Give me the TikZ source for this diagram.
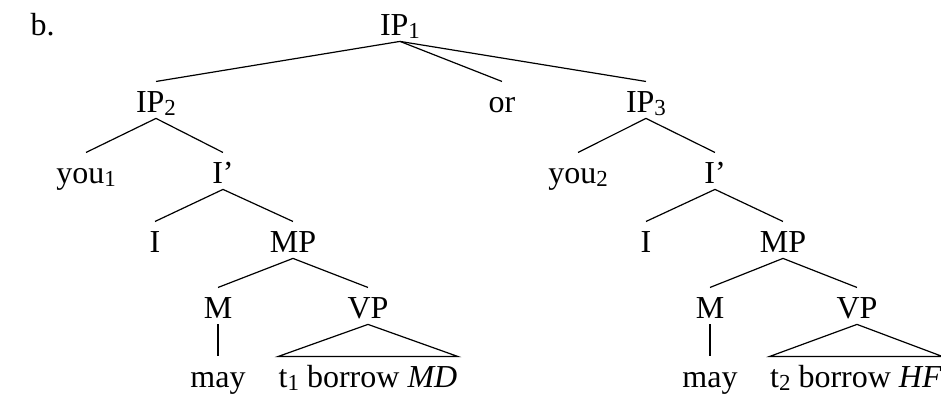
\documentclass[tikz,border=0pt]{standalone}
\usepackage{fontspec}
\setmainfont{Liberation Serif}
\usepackage{tikz}
\usetikzlibrary{positioning}
\newcommand{\idx}[1]{\raisebox{-1.3pt}{\fontsize{8.6}{10}\selectfont #1}}

\begin{document}
\begin{tikzpicture}[x=0.375pt,y=-0.375pt,
    cat/.style={inner sep=0pt,anchor=base,text height=11.25pt,text depth=2.2pt,font=\fontsize{12}{14}\selectfont},
    branch/.style={black,line width=0.45pt}]
      \useasboundingbox (0,0) rectangle (941,394);
      \node[cat,anchor=base west] (tag) at (30,35) {b.};
      % top level
      \node[cat] (ipa) at (400,35) {IP\idx{1}};
      \node[cat] (ipb) at (156,112) {IP\idx{2}};
      \node[cat] (conj) at (502,112) {or};
      \node[cat] (ipc) at (646,112) {IP\idx{3}};
      % left conjunct
      \node[cat] (youa) at (86,183) {you\idx{1}};
      \node[cat] (ibara) at (223,183) {I’};
      \node[cat] (ia) at (155,252) {I};
      \node[cat] (mpa) at (293,252) {MP};
      \node[cat] (ma) at (218,318) {M};
      \node[cat] (vpa) at (368,318) {VP};
      \node[cat] (maya) at (218,387) {may};
      \node[cat] (leafa) at (368,387) {t\idx{1} borrow \textit{MD}};
      % right conjunct
      \node[cat] (youb) at (578,183) {you\idx{2}};
      \node[cat] (ibarb) at (715,183) {I’};
      \node[cat] (ib) at (646,252) {I};
      \node[cat] (mpb) at (783,252) {MP};
      \node[cat] (mb) at (710,318) {M};
      \node[cat] (vpb) at (857,318) {VP};
      \node[cat] (mayb) at (710,387) {may};
      \node[cat] (leafb) at (856,387) {t\idx{2} borrow \textit{HF}};
      \foreach \p/\c in {ipa/ipb,ipa/conj,ipa/ipc,
          ipb/youa,ipb/ibara,ibara/ia,ibara/mpa,mpa/ma,mpa/vpa,ma/maya,
          ipc/youb,ipc/ibarb,ibarb/ib,ibarb/mpb,mpb/mb,mpb/vpb,mb/mayb} {
        \draw[branch] (\p.south) -- (\c.north);
      }
      \draw[branch] (leafa.north west) -- (vpa.south) -- (leafa.north east) -- cycle;
      \draw[branch] (leafb.north west) -- (vpb.south) -- (leafb.north east) -- cycle;
    \end{tikzpicture}
\end{document}
